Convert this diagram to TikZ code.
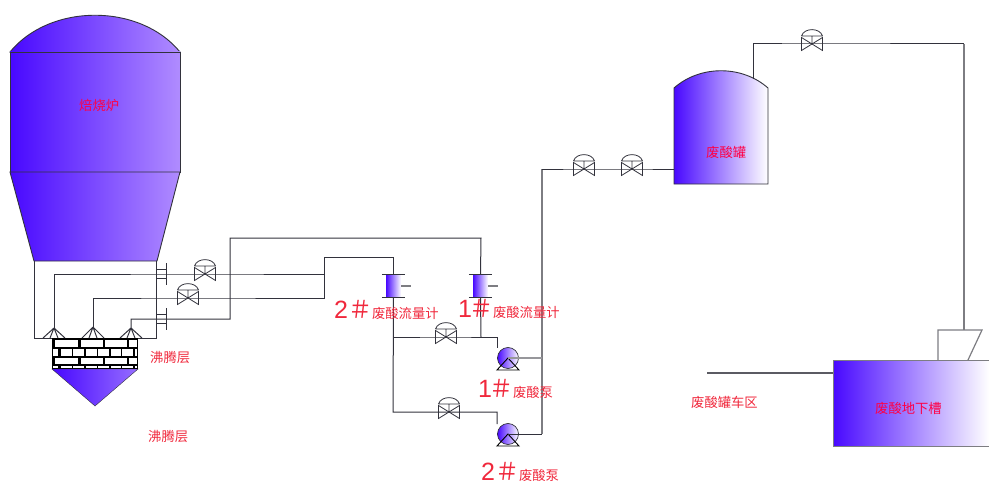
\documentclass[tikz,border=0pt]{standalone}
\usepackage{fontspec}
\setmainfont{Liberation Sans}
\newfontfamily\cjk{Noto Sans CJK SC}
\newcommand{\tagnum}[2][0pt]{\smash{{\rmfamily\fontsize{25}{25}\selectfont #2}\kern#1{\fontsize{24}{24}\selectfont ＃}}}
\definecolor{deepviolet}{RGB}{72,8,255}
\definecolor{paleviolet}{RGB}{176,140,255}
\definecolor{midviolet}{RGB}{150,110,255}
\definecolor{linedark}{RGB}{50,50,60}
\definecolor{linegray}{RGB}{125,125,130}
\definecolor{textred}{RGB}{240,40,60}
\definecolor{brightred}{RGB}{255,0,70}
\begin{document}
\begin{tikzpicture}[
        x=1pt, y=-1pt,
        pipe/.style={draw=linedark, line width=1pt},
        graypipe/.style={draw=linegray, line width=1.2pt},
        shell/.style={draw=linedark, line width=0.9pt, left color=deepviolet, right color=paleviolet},
        vessel/.style={draw=linedark, line width=0.9pt, left color=deepviolet, right color=white},
        valve/.style={inner sep=0pt, minimum width=24pt, minimum height=32pt, path picture={
            \draw[linedark, line width=0.8pt, shift={(path picture bounding box.center)}]
                (-10.5,-6.5) -- (10.5,6.5) -- (10.5,-6.5) -- (-10.5,6.5) -- cycle
                (0,0) -- (0,-8) (-10.5,-8) -- (10.5,-8)
                (-10.5,-8) .. controls (-8,-16.5) and (8,-16.5) .. (10.5,-8);
        }},
        pumpbody/.style={circle, draw=linedark, line width=0.7pt, minimum size=21pt, inner sep=0pt, left color=deepviolet, right color=white},
        pumpbase/.style={draw=black, line width=0.9pt},
        fmeter/.style={rectangle, inner sep=0pt, minimum width=15pt, minimum height=22pt, left color=deepviolet, right color=white},
        redtext/.style={text=textred, inner sep=0pt, anchor=west, font=\cjk\fontsize{13.3}{15}\selectfont}
    ]
    \useasboundingbox (0,0) rectangle (989,487);

    % Furnace
    \path[shell] (10,52) .. controls (50,3) and (140,3) .. (180,52) -- cycle;
    \path[shell] (10,52) rectangle (180,172);
    \path[shell] (10,172) -- (180,172) -- (157,261) -- (34,261) -- cycle;
    \node[redtext, text=brightred] (furnace) at (79,105) {焙烧炉};

    % Lower box and brick bed
    \draw[pipe] (34,261) -- (34,338) -- (156,338) -- (156,261);
    \fill[black] (52,338) rectangle (138,369);
    \foreach \ya/\yb in {340/347, 358/364}
        \foreach \xa/\xb in {55/78, 81/103, 105/127, 129/137}
            \fill[white] (\xa,\ya) rectangle (\xb,\yb);
    \foreach \ya/\yb in {349/356, 366/368}
        \foreach \xa/\xb in {53/58, 61/72, 73/84, 86/97, 98/109, 111/121, 122/133, 135/137}
            \fill[white] (\xa,\ya) rectangle (\xb,\yb);
    \path[draw=linedark, left color=deepviolet, right color=midviolet] (52,369) -- (138,369) -- (95,406) -- cycle;

    % Nozzles
    \foreach \x/\y/\name in {54/328/noza, 93/327/nozb, 131/328/nozc} {
        \coordinate (\name) at (\x,\y);
        \draw[pipe] (\name) -- (\x-11,338) (\name) -- (\x-4,338) (\name) -- (\x+4,338) (\name) -- (\x+11,338);
    }

    % Flanges
    \coordinate (flangea) at (156,274);
    \coordinate (flangeb) at (156,319);
    \foreach \name in {flangea, flangeb}
        \draw[pipe] ([shift={(0,-4.5)}]\name) -- ++(10,0) ([shift={(0,4.5)}]\name) -- ++(10,0)
                    ([shift={(10,-11)}]\name) -- ++(0,22);

    % Valves
    \node[valve] (vfura) at (205,274) {};
    \node[valve] (vfurb) at (188,298) {};
    \node[valve] (vpuma) at (446,337) {};
    \node[valve] (vpumb) at (449,412) {};
    \node[valve] (vouta) at (584,169) {};
    \node[valve] (voutb) at (632,169) {};
    \node[valve] (vtop) at (812,44) {};

    % Flow meters
    \node[fmeter] (fmb) at (393.5,286) {};
    \node[fmeter] (fma) at (480.5,286) {};
    \foreach \name in {fma, fmb} {
        \draw[pipe] ([xshift=-4pt]\name.north west) -- ([xshift=4pt]\name.north east);
        \draw[pipe] ([xshift=-4pt]\name.south west) -- ([xshift=4pt]\name.south east);
        \draw[linegray, line width=1.6pt] (\name.east) -- ++(10,0);
    }

    % Pumps
    \node[pumpbody] (pumpa) at (508,358) {};
    \node[pumpbody] (pumpb) at (508,434) {};
    \foreach \name in {pumpa, pumpb}
        \draw[pumpbase] (\name.center) -- ++(-11,12) -- ++(22,0) -- cycle;

    % Acid tank
    \path[vessel] (674,88) .. controls (700,65) and (742,65) .. (768,88) -- (768,184) -- (674,184) -- cycle;
    \node[redtext, text=brightred] (tanklabel) at (706,152) {废酸罐};
    \coordinate (tankin) at (674,169);
    \coordinate (tankout) at (753,79);

    % Underground tank and hopper
    \node[rectangle, draw=linegray, line width=0.9pt, left color=deepviolet, right color=white, minimum width=156pt, minimum height=86pt, inner sep=0pt] (sump) at (911,403) {};
    \coordinate (hopper) at (964,330);
    \draw[graypipe] (938,360) -- (938,330) -- (982,330) -- (968,360);
    \node[redtext, text=brightred] (sumplabel) at (875,408) {废酸地下槽};
    \coordinate (carline) at (707,373);
    \draw[graypipe, draw=linedark!80] (carline) -- (carline -| sump.west);

    % Pipes from furnace
    \draw[pipe] (noza) |- (vfura.center) -- (324,274);
    \draw[pipe] (nozb) |- (vfurb.center) -- (324,298) -- (324,257) -| (fmb.north);
    \draw[pipe] (nozc) |- (230,319) |- (481,238) -- (fma.north);

    % Pipes to pumps
    \draw[pipe] (fmb.south) -- (393,412) -- (vpumb.center) -- (497,412) -- (497,424);
    \draw[pipe] (393,337) -- (vpuma.center) -- (497,337) -- (497,348);
    \draw[pipe] (fma.south) -- (481,337);

    % Pipes out of pumps
    \draw[graypipe] (542,434) -- (542,169);
    \draw[graypipe, draw=linegray!80] (pumpa.center) -- (542,358);
    \draw[pipe] (pumpb.center) -- (542,434);
    \draw[pipe] (542,169) -- (vouta.center) -- (voutb.center) -- (tankin);

    % Pipe from tank to hopper
    \draw[pipe] (tankout) |- (vtop.center) -- (964,44);
    \draw[graypipe] (964,44) -- (hopper);

    % Labels
    \node[redtext] (beda) at (150,358) {沸腾层};
    \node[redtext] (bedb) at (148,437) {沸腾层};
    \node[redtext] (fmblabel) at (334,313) {\tagnum{2}废酸流量计};
    \node[redtext] (fmalabel) at (458,312) {\tagnum[-3pt]{1}废酸流量计};
    \node[redtext] (pumpalabel) at (478,392) {\tagnum[-3pt]{1}废酸泵};
    \node[redtext] (pumpblabel) at (481,475) {\tagnum{2}废酸泵};
    \node[redtext] (carlabel) at (691,402) {废酸罐车区};

    \end{tikzpicture}
\end{document}
